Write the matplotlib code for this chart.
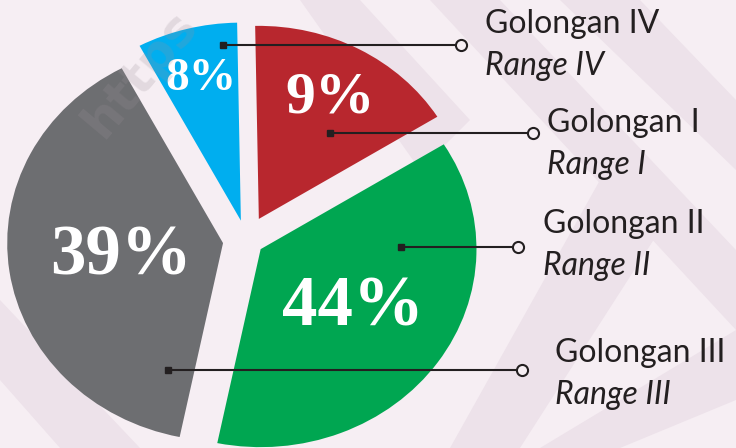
import numpy as np
import matplotlib
matplotlib.use('Agg')
import matplotlib.pyplot as plt
from matplotlib.patches import Polygon

# Data (slice sizes as drawn in the graphic, printed labels as shown)
categories = ['Golongan I', 'Golongan II', 'Golongan III', 'Golongan IV']
ranges = ['Range I', 'Range II', 'Range III', 'Range IV']
percent = [9, 44, 39, 8]
slice_size = [16.4, 37.1, 39.0, 7.5]

# Styles
colors = ['#b8272e', '#00a651', '#6d6e71', '#00aeef']
explode = [24, 16, 21.6, 20]  # offsets in pie units (matplotlib uses absolute units)
radius_scale = [0.975, 1.0, 1.0, 1.0]
pct_dist = [0.71, 0.52, 0.48, 0.74]
pct_size = [43, 51, 51, 34]
bg = '#f6eef3'
band = '#ede2ea'
ink = '#231f20'
W, H = 736, 448
stretch = 1.09  # the original graphic is slightly wider than round

fig = plt.figure(figsize=(W / 100, H / 100), dpi=100, facecolor=bg)

# background with faint chevron bands
bg_ax = fig.add_axes([0, 0, 1, 1], zorder=0)
bg_ax.set_xlim(0, W)
bg_ax.set_ylim(H, 0)
bg_ax.set_facecolor(bg)
bg_ax.axis('off')
bands = [
    [(430, 0), (500, 0), (736, 250), (736, 330)],
    [(560, 0), (640, 0), (736, 100), (736, 170)],
    [(736, 330), (736, 400), (620, 448), (540, 448)],
    [(0, 300), (0, 380), (60, 448), (140, 448)],
    [(300, 0), (360, 0), (470, 120), (420, 170)],
    [(600, 180), (660, 230), (520, 448), (450, 448)],
]
for pts in bands:
    bg_ax.add_patch(Polygon(pts, closed=True, facecolor=band, edgecolor='none'))

# pie in slightly stretched units
ax = fig.add_axes([0, 0, 1, 1], zorder=1)
ax.patch.set_alpha(0)
wedges, _ = ax.pie(slice_size, colors=colors, startangle=91, counterclock=False,
                   explode=explode, radius=198, center=(226, 208),
                   wedgeprops=dict(linewidth=0))
for w, k in zip(wedges, radius_scale):
    w.set_radius(198 * k)
ax.set_aspect('auto')
ax.set_xlim(0, W / stretch)
ax.set_ylim(0, H)
ax.axis('off')

for w, p, d, fs in zip(wedges, percent, pct_dist, pct_size):
    mid = np.deg2rad((w.theta1 + w.theta2) / 2)
    cx, cy = w.center
    r = w.r * d
    ax.text(cx + r * np.cos(mid), cy + r * np.sin(mid), f'{p}%',
            ha='center', va='center', color='white', fontsize=fs,
            fontweight='bold', family='Liberation Serif')

# leader lines and labels in pixel units
top = fig.add_axes([0, 0, 1, 1], zorder=2)
top.patch.set_alpha(0)
top.set_xlim(0, W)
top.set_ylim(H, 0)
top.axis('off')

# start (x), end (x), y, label x, first baseline
leaders = [
    (330, 533, 133, 547, 132),
    (401, 518, 247, 543, 233),
    (168, 522, 370, 555, 362),
    (223, 461, 45, 485, 33),
]
for (x0, x1, y, tx, tb), name, rng in zip(leaders, categories, ranges):
    top.plot([x0, x1], [y, y], color=ink, lw=1.5, solid_capstyle='butt')
    top.plot(x0, y, 's', ms=5, color=ink)
    top.plot(x1, y, 'o', ms=8, mfc=bg, mec=ink, mew=1.5)
    top.text(tx, tb, name, ha='left', va='baseline', fontsize=23,
             family='Lato', color=ink)
    top.text(tx, tb + 42, rng, ha='left', va='baseline', fontsize=23,
             family='Lato', style='italic', color=ink)

# faint watermark
top.text(140, 74, 'https', rotation=50, ha='center', va='center',
         fontsize=36, fontweight='bold', family='DejaVu Sans',
         color='#9a9098', alpha=0.22)

fig.savefig('out.png', dpi=100, facecolor=bg)
